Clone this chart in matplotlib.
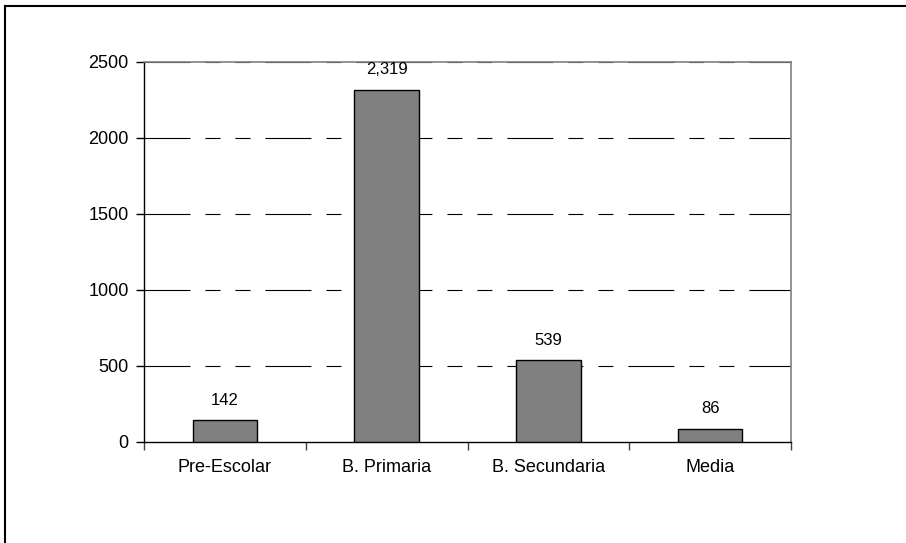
import matplotlib
matplotlib.use("Agg")
import matplotlib.pyplot as plt
from matplotlib.lines import Line2D
from matplotlib.ticker import FixedLocator

categories = ["Pre-Escolar", "B. Primaria", "B. Secundaria", "Media"]
values = [142, 2319, 539, 86]
value_labels = ["142", "2,319", "539", "86"]
yticks = [0, 500, 1000, 1500, 2000, 2500]

plt.rcParams['font.family'] = ['Liberation Sans Narrow', 'Liberation Sans', 'DejaVu Sans']
plt.rcParams['lines.scale_dashes'] = False

fig = plt.figure(figsize=(9.06, 5.43), dpi=100)
W, H = 906, 543
ax = fig.add_axes([144 / W, (H - 442) / H, (791 - 144) / W, (442 - 62) / H])

x = list(range(len(categories)))
ax.bar(x, values, width=0.4, color="#808080", edgecolor="black", linewidth=1.0, zorder=3)

ax.set_xlim(-0.5, len(categories) - 0.5)
ax.set_ylim(0, 2500)

ax.set_yticks(yticks)
ax.set_yticklabels([str(t) for t in yticks], fontsize=13)
ax.set_xticks(x)
ax.set_xticklabels(categories, fontsize=13)
ax.tick_params(axis='x', which='major', length=0, pad=12)
ax.xaxis.set_minor_locator(FixedLocator([i - 0.5 for i in range(len(categories) + 1)]))
ax.tick_params(axis='x', which='minor', length=6, width=1, direction='out', color='#404040')
ax.tick_params(axis='y', length=6, width=1, direction='out', pad=5)

dash = (0, (33.1, 10.8, 10.8, 10.8, 10.8, 10.8))
for t in yticks[1:]:
    ax.axhline(t, color='black', linewidth=0.8, linestyle=dash, zorder=1)

for s in ['top', 'right']:
    ax.spines[s].set_color('#808080')
    ax.spines[s].set_linewidth(1.2)
for s in ['left', 'bottom']:
    ax.spines[s].set_color('black')
    ax.spines[s].set_linewidth(1.0)

for xi, v, lab in zip(x, values, value_labels):
    ax.annotate(lab, (xi, v), xytext=(0, 9), textcoords='offset points',
                ha='center', va='bottom', fontsize=12)

# outer frame (top and left edges)
fig.add_artist(Line2D([5 / W, 5 / W], [0, 1 - 6 / H], transform=fig.transFigure, color='black', linewidth=1.5))
fig.add_artist(Line2D([5 / W, 1], [1 - 6 / H, 1 - 6 / H], transform=fig.transFigure, color='black', linewidth=1.5))

fig.savefig("out.png", dpi=100)
